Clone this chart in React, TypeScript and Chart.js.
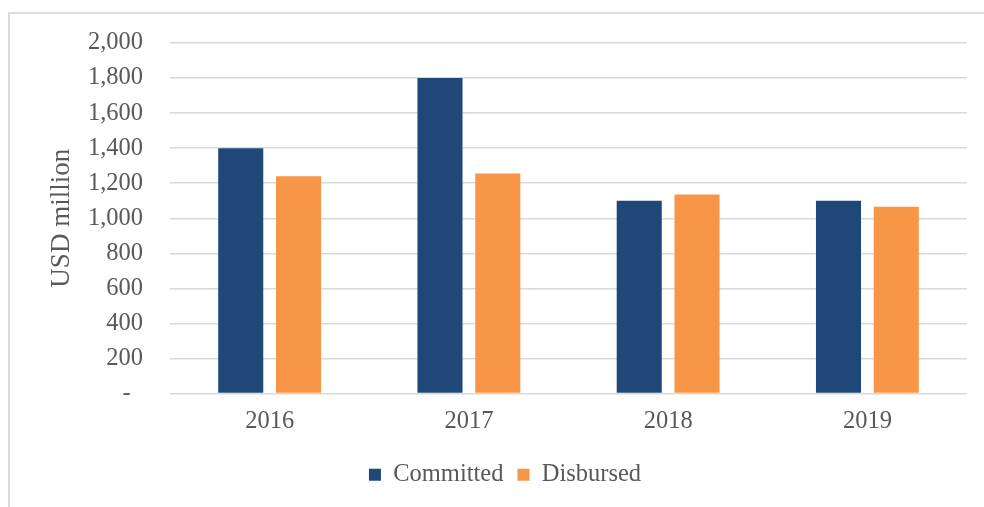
import React, { useEffect, useRef } from "react";
import { Chart, registerables } from "chart.js";

Chart.register(...registerables);

const categories = ["2016", "2017", "2018", "2019"];
const committed = [1400, 1800, 1100, 1100];
const disbursed = [1240, 1255, 1135, 1065];
const seriesNames = ["Committed", "Disbursed"];
const yMin = 0;
const yMax = 2000;
const yStep = 200;
const yTitle = "USD million";

const FONT = "'Liberation Serif', 'Times New Roman', serif";
const TEXT = "#595959";
const FS = 24.5;

export default function App() {
  const ref = useRef<HTMLCanvasElement>(null);
  useEffect(() => {
    if (!ref.current) return;
    const chart = new Chart(ref.current, {
      type: "bar",
      data: {
        labels: categories,
        datasets: [
          {
            label: seriesNames[0],
            data: committed,
            backgroundColor: "#1f4878",
            borderWidth: 0,
            categoryPercentage: 0.58,
            barPercentage: 0.78,
          },
          {
            label: seriesNames[1],
            data: disbursed,
            backgroundColor: "#f79646",
            borderWidth: 0,
            categoryPercentage: 0.58,
            barPercentage: 0.78,
          },
        ],
      },
      options: {
        animation: false,
        responsive: true,
        maintainAspectRatio: false,
        layout: { padding: { left: 43, right: 17, top: 43, bottom: 10 } },
        plugins: {
          tooltip: { enabled: false },
          legend: {
            position: "bottom",
            labels: {
              boxWidth: 12,
              boxHeight: 12,
              padding: 14,
              color: TEXT,
              font: { family: FONT, size: FS },
            },
          },
        },
        scales: {
          x: {
            grid: { display: false },
            border: { display: false },
            ticks: {
              color: TEXT,
              font: { family: FONT, size: FS },
              padding: 5,
              maxRotation: 0,
            },
            afterFit: (s: any) => {
              s.height = 55;
            },
          },
          y: {
            min: yMin,
            max: yMax,
            border: { display: false },
            grid: { color: "#d9d9d9", lineWidth: 1.5, drawTicks: false },
            ticks: {
              stepSize: yStep,
              color: TEXT,
              font: { family: FONT, size: FS },
              padding: 27,
              callback: (v: any) =>
                Number(v) === 0 ? "-  " : Number(v).toLocaleString("en-US"),
            },
            title: {
              display: true,
              text: yTitle,
              color: TEXT,
              font: { family: FONT, size: 27 },
              padding: { top: 3, bottom: 0 },
            },
            afterFit: (s: any) => {
              s.width = 127;
            },
          },
        },
      },
    });
    return () => chart.destroy();
  }, []);
  return (
    <>
      <div
        style={{
          position: "fixed",
          left: 8,
          top: 12,
          width: 2000,
          height: 2000,
          borderTop: "2px solid #dcdcdc",
          borderLeft: "2px solid #dcdcdc",
          background: "#fff",
        }}
      />
      <div style={{ position: "fixed", left: 0, top: 0, width: 984, height: 507 }}>
        <canvas ref={ref} />
      </div>
    </>
  );
}
